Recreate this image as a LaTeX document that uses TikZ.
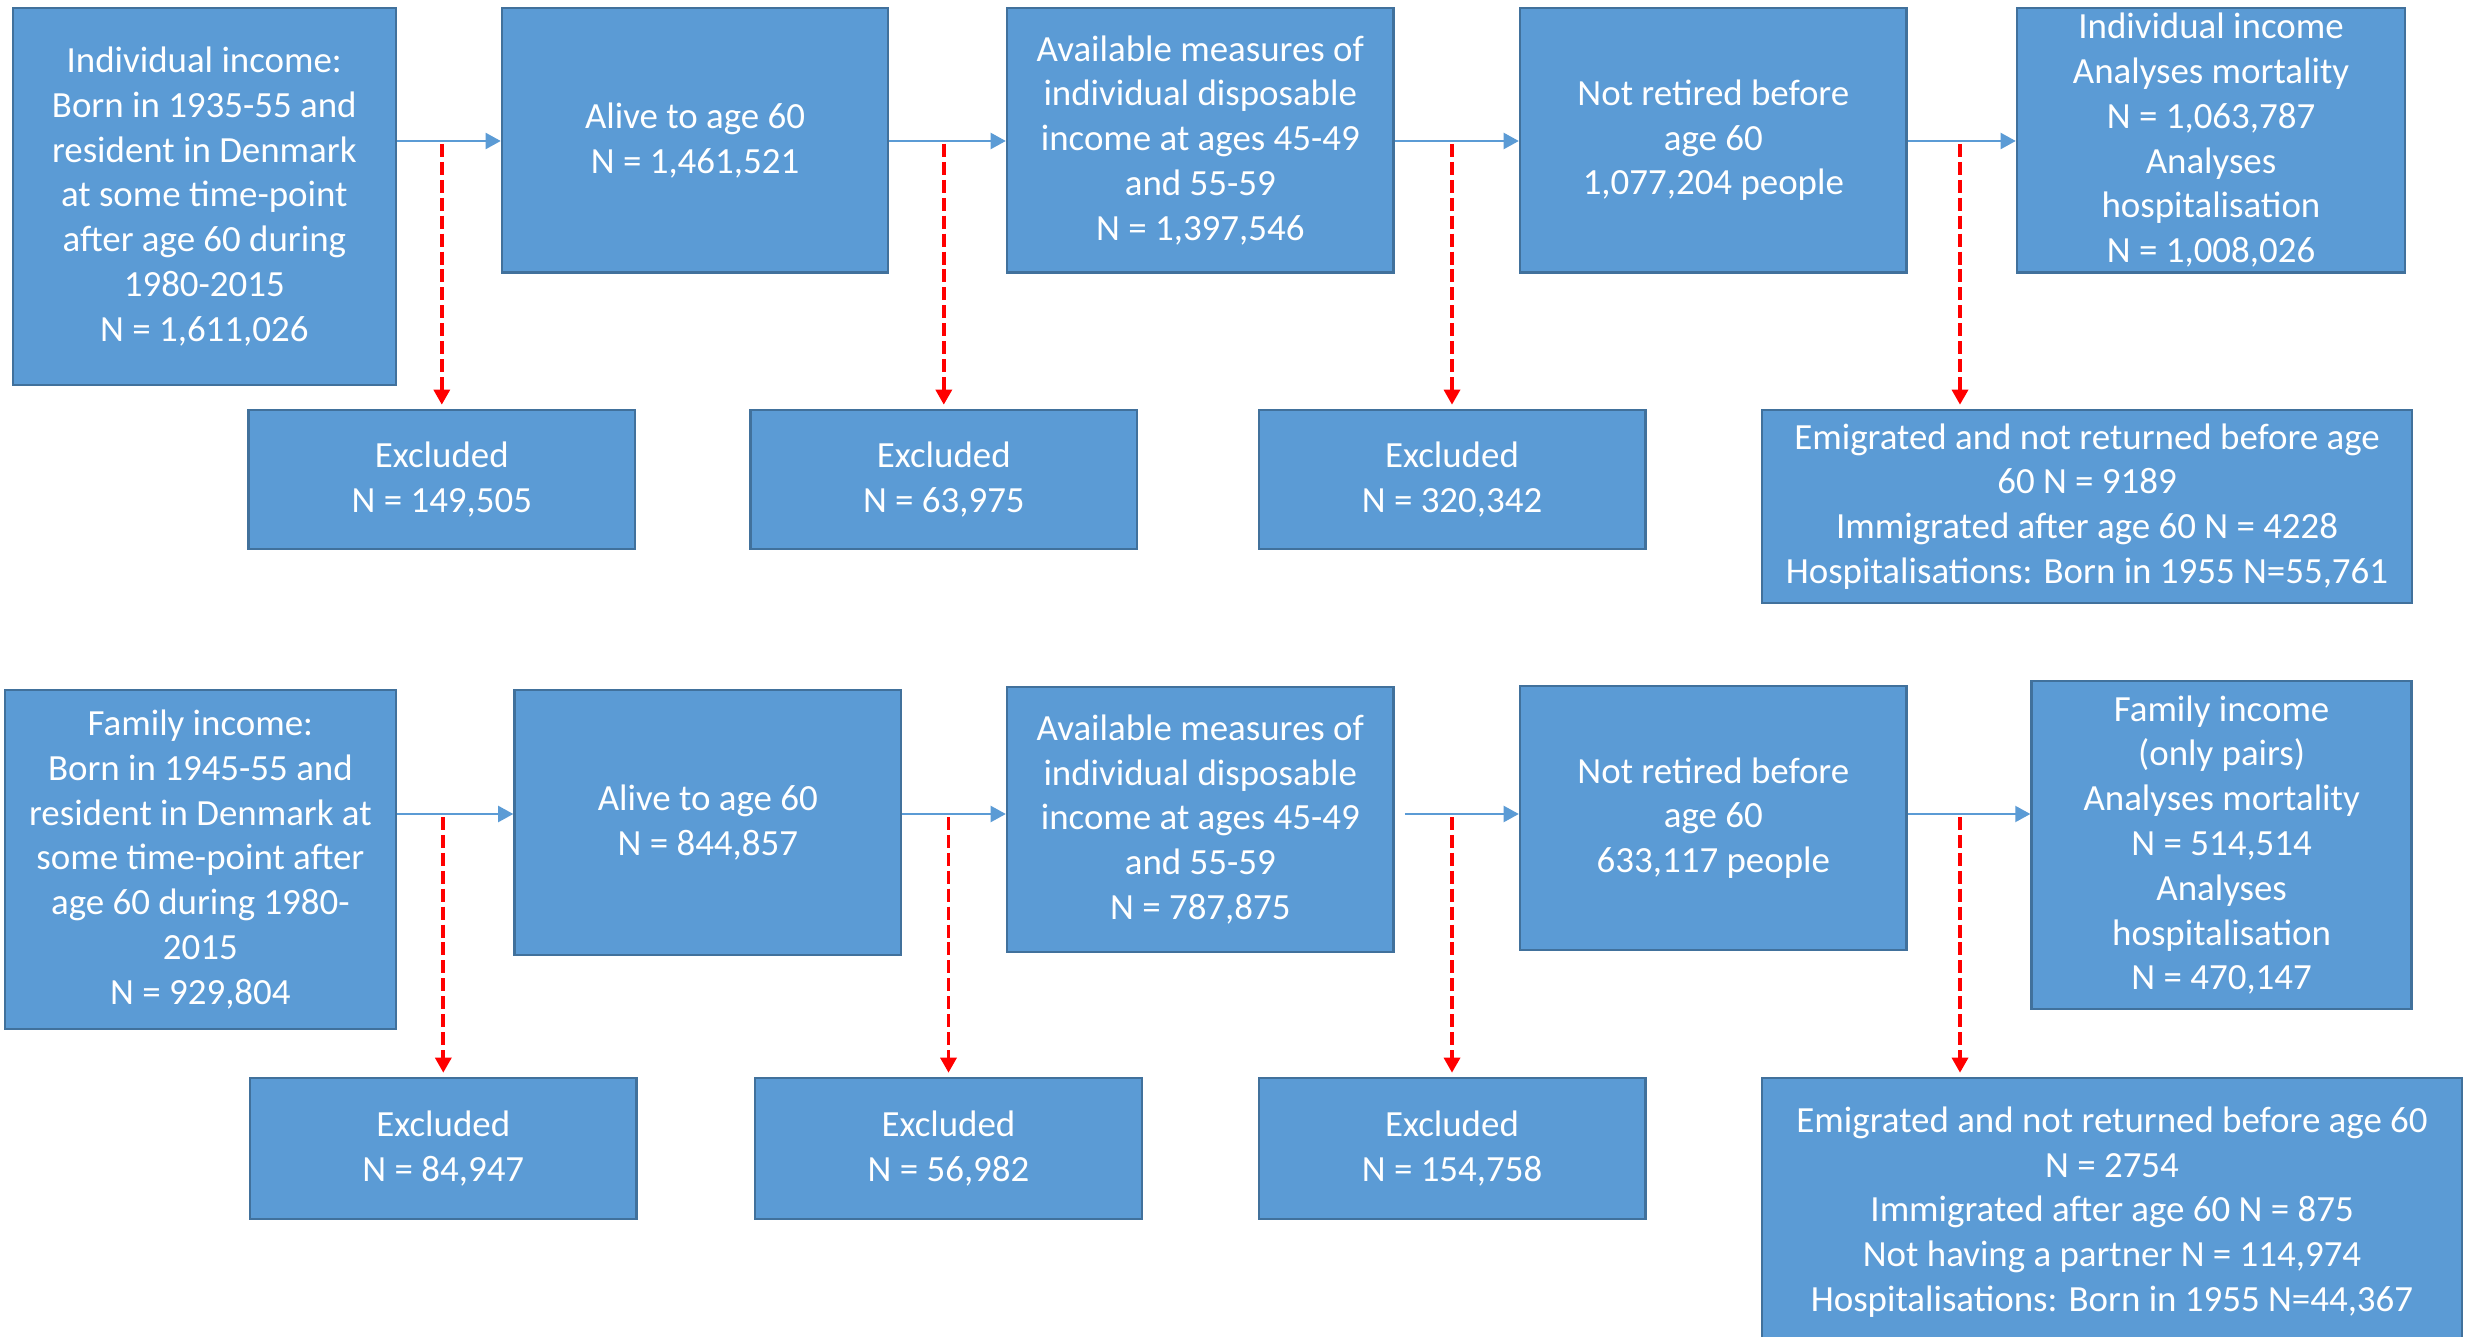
\documentclass[tikz,border=0pt]{standalone}
\usepackage{fontspec}
\setmainfont{Carlito}
\usetikzlibrary{arrows.meta}
\definecolor{boxblue}{HTML}{5B9BD5}
\definecolor{boxline}{HTML}{41719C}
\begin{document}
\begin{tikzpicture}[
  box/.style={draw=boxline,line width=0.7pt,fill=boxblue,text=white,align=center,
    inner xsep=2pt,inner ysep=0pt,font=\fontsize{10.5}{12.75}\selectfont},
  flow/.style={draw=boxblue,line width=0.75pt,-{Triangle[width=4.5pt,length=4.3pt]}},
  excl/.style={draw=red,line width=1.1pt,dash pattern=on 3.7pt off 1.4pt,-{Triangle[width=4.5pt,length=4.3pt]}}]
\useasboundingbox[fill=white] (0,0) rectangle (24.83,13.36);
\coordinate (row1) at (0,11.95);
\coordinate (row2) at (0,5.22);
\node[box,minimum width=3.83cm,minimum height=3.77cm] (A1) at (2.043,11.396) {Individual income:\\Born in 1935-55 and\\resident in Denmark\\at some time-point\\after age 60 during\\1980-2015\\N = 1,611,026};
\node[box,minimum width=3.86cm,minimum height=2.645cm] (A2) at (6.95,11.958) {Alive to age 60\\N = 1,461,521};
\node[box,minimum width=3.865cm,minimum height=2.645cm] (A3) at (12.003,11.958) {Available measures of\\individual disposable\\income at ages 45-49\\and 55-59\\N = 1,397,546};
\node[box,minimum width=3.865cm,minimum height=2.645cm] (A4) at (17.133,11.958) {Not retired before\\age 60\\1,077,204 people};
\node[box,minimum width=3.88cm,minimum height=2.645cm] (A5) at (22.11,11.958) {Individual income\\Analyses mortality\\N = 1,063,787\\Analyses\\hospitalisation\\N = 1,008,026};
\node[box,minimum width=3.865cm,minimum height=1.39cm] (E1) at (4.418,8.565) {Excluded\\N = 149,505};
\node[box,minimum width=3.865cm,minimum height=1.39cm] (E2) at (9.438,8.565) {Excluded\\N = 63,975};
\node[box,minimum width=3.865cm,minimum height=1.39cm] (E3) at (14.52,8.565) {Excluded\\N = 320,342};
\node[box,minimum width=6.5cm,minimum height=1.93cm] (E4) at (20.87,8.295) {Emigrated and not returned before age\\60 N = 9189\\Immigrated after age 60 N = 4228\\Hospitalisations: Born in 1955 N=55,761};
\node[box,minimum width=3.91cm,minimum height=3.39cm] (B1) at (2.004,4.765) {Family income:\\Born in 1945-55 and\\resident in Denmark at\\some time-point after\\age 60 during 1980-\\2015\\N = 929,804};
\node[box,minimum width=3.865cm,minimum height=2.65cm] (B2) at (7.078,5.135) {Alive to age 60\\N = 844,857};
\node[box,minimum width=3.865cm,minimum height=2.65cm] (B3) at (12.003,5.165) {Available measures of\\individual disposable\\income at ages 45-49\\and 55-59\\N = 787,875};
\node[box,minimum width=3.865cm,minimum height=2.64cm] (B4) at (17.133,5.18) {Not retired before\\age 60\\633,117 people};
\node[box,minimum width=3.8cm,minimum height=3.28cm] (B5) at (22.216,4.91) {Family income\\(only pairs)\\Analyses mortality\\N = 514,514\\Analyses\\hospitalisation\\N = 470,147};
\node[box,minimum width=3.865cm,minimum height=1.41cm] (F1) at (4.433,1.875) {Excluded\\N = 84,947};
\node[box,minimum width=3.865cm,minimum height=1.41cm] (F2) at (9.485,1.875) {Excluded\\N = 56,982};
\node[box,minimum width=3.865cm,minimum height=1.41cm] (F3) at (14.52,1.875) {Excluded\\N = 154,758};
\node[box,minimum width=7.0cm,minimum height=2.68cm] (F4) at (21.12,1.24) {Emigrated and not returned before age 60\\N = 2754\\Immigrated after age 60 N = 875\\Not having a partner N = 114,974\\Hospitalisations: Born in 1955 N=44,367};
\coordinate (s4) at (19.60,11.92);
\coordinate (t4) at (19.60,5.19);
\draw[flow] (A1.east |- row1) -- (A2.west |- row1);
\draw[flow] (A2.east |- row1) -- (A3.west |- row1);
\draw[flow] (A3.east |- row1) -- (A4.west |- row1);
\draw[flow] (A4.east |- row1) -- (A5.west |- row1);
\draw[flow] (B1.east |- row2) -- (B2.west |- row2);
\draw[flow] (B2.east |- row2) -- (B3.west |- row2);
\draw[flow] ([xshift=0.1cm]B3.east |- row2) -- (B4.west |- row2);
\draw[flow] (B4.east |- row2) -- (B5.west |- row2);
\draw[excl] ([yshift=-0.03cm]E1.north |- row1) -- ([yshift=0.04cm]E1.north);
\draw[excl] ([yshift=-0.03cm]E2.north |- row1) -- ([yshift=0.04cm]E2.north);
\draw[excl] ([yshift=-0.03cm]E3.north |- row1) -- ([yshift=0.04cm]E3.north);
\draw[excl] (s4) -- ([yshift=0.04cm]s4 |- E4.north);
\draw[excl] ([yshift=-0.03cm]F1.north |- row2) -- ([yshift=0.04cm]F1.north);
\draw[excl] ([yshift=-0.03cm]F2.north |- row2) -- ([yshift=0.04cm]F2.north);
\draw[excl] ([yshift=-0.03cm]F3.north |- row2) -- ([yshift=0.04cm]F3.north);
\draw[excl] (t4) -- ([yshift=0.04cm]t4 |- F4.north);
\end{tikzpicture}
\end{document}
